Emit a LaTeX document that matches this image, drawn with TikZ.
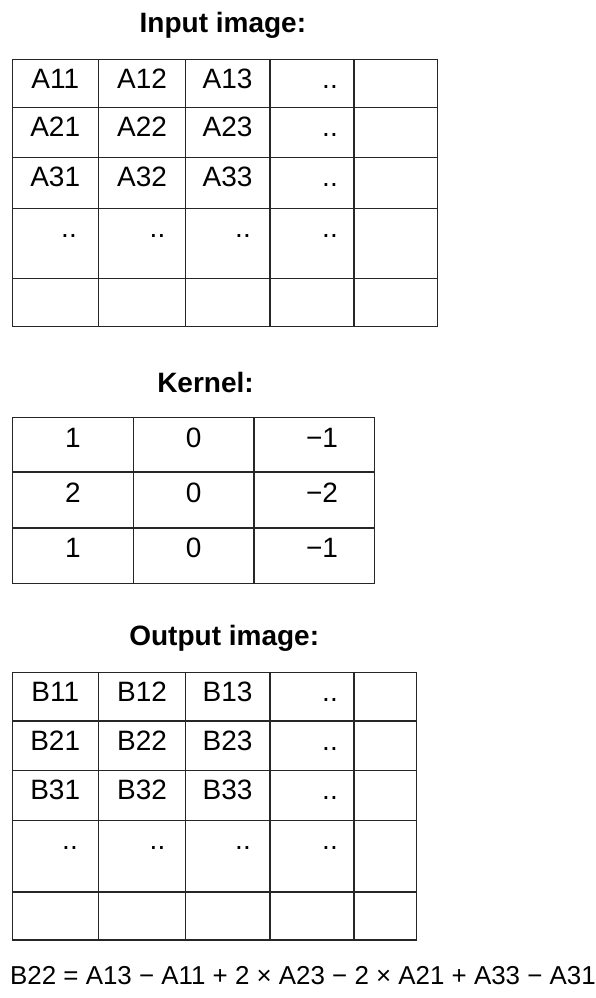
\documentclass[tikz,border=0pt]{standalone}
\usepackage{fontspec}
\setmainfont{Liberation Sans}
\begin{document}
\begin{tikzpicture}[x=1pt,y=-1pt,
  gridline/.style={draw=black!85,line width=1.3pt,line cap=rect},
  celltext/.style={font=\fontsize{28}{28}\selectfont,anchor=base,inner sep=0pt},
  titletext/.style={font=\bfseries\fontsize{28}{28}\selectfont,anchor=base,inner sep=0pt},
  eqtext/.style={font=\fontsize{25.9}{26}\selectfont,anchor=base west,inner sep=0pt}]
\useasboundingbox (0,0) rectangle (596,998);
\fill[white] (0,0) rectangle (596,998);

% ---------- Input image ----------
\node[titletext] (tin) at (222.9,33) {Input image:};
\foreach \x in {12.7,98.7,185.3,270,354,437.7} \draw[gridline] (\x,59.3) -- (\x,326.7);
\foreach \y in {59.3,107.3,157.3,208.3,278.3,326.7} \draw[gridline] (12.7,\y) -- (437.7,\y);
\node[celltext] (a11) at (55.2,88.3) {A11};
\node[celltext] (a12) at (142,88.3) {A12};
\node[celltext] (a13) at (227.6,88.3) {A13};
\node[celltext] (a14) at (330,88.3) {..};
\node[celltext] (a21) at (55.2,136.3) {A21};
\node[celltext] (a22) at (142,136.3) {A22};
\node[celltext] (a23) at (227.6,136.3) {A23};
\node[celltext] (a24) at (330,136.3) {..};
\node[celltext] (a31) at (55.2,186.3) {A31};
\node[celltext] (a32) at (142,186.3) {A32};
\node[celltext] (a33) at (227.6,186.3) {A33};
\node[celltext] (a34) at (330,186.3) {..};
\node[celltext] (a41) at (69,237.3) {..};
\node[celltext] (a42) at (157.5,237.3) {..};
\node[celltext] (a43) at (243,237.3) {..};
\node[celltext] (a44) at (330,237.3) {..};

% ---------- Kernel ----------
\node[titletext] (tker) at (205.5,392.5) {Kernel:};
\foreach \x in {12.7,133.3,254,374.7} \draw[gridline] (\x,417.3) -- (\x,583.3);
\foreach \y in {417.3,472,528,583.3} \draw[gridline] (12.7,\y) -- (374.7,\y);
\node[celltext] (k11) at (73,447) {1};
\node[celltext] (k12) at (193.7,447) {0};
\node[celltext] (k13) at (322,447) {−1};
\node[celltext] (k21) at (73,502) {2};
\node[celltext] (k22) at (193.7,502) {0};
\node[celltext] (k23) at (322,502) {−2};
\node[celltext] (k31) at (73,557) {1};
\node[celltext] (k32) at (193.7,557) {0};
\node[celltext] (k33) at (322,557) {−1};

% ---------- Output image ----------
\node[titletext] (tout) at (224.2,645.5) {Output image:};
\foreach \x in {12.7,98.7,185.3,270,354,416.7} \draw[gridline] (\x,672.7) -- (\x,940);
\foreach \y in {672.7,721,770.3,820.3,892,940} \draw[gridline] (12.7,\y) -- (416.7,\y);
\node[celltext] (b11) at (55.2,701.8) {B11};
\node[celltext] (b12) at (142,701.8) {B12};
\node[celltext] (b13) at (227.6,701.8) {B13};
\node[celltext] (b14) at (330,701.8) {..};
\node[celltext] (b21) at (55.2,750.1) {B21};
\node[celltext] (b22) at (142,750.1) {B22};
\node[celltext] (b23) at (227.6,750.1) {B23};
\node[celltext] (b24) at (330,750.1) {..};
\node[celltext] (b31) at (55.2,799.4) {B31};
\node[celltext] (b32) at (142,799.4) {B32};
\node[celltext] (b33) at (227.6,799.4) {B33};
\node[celltext] (b34) at (330,799.4) {..};
\node[celltext] (b41) at (70,849.4) {..};
\node[celltext] (b42) at (157.5,849.4) {..};
\node[celltext] (b43) at (243,849.4) {..};
\node[celltext] (b44) at (330,849.4) {..};

% ---------- Formula ----------
\node[eqtext] (eq) at (10,984) {B22 = A13 − A11 + 2 × A23 − 2 × A21 + A33 − A31};
\end{tikzpicture}
\end{document}
